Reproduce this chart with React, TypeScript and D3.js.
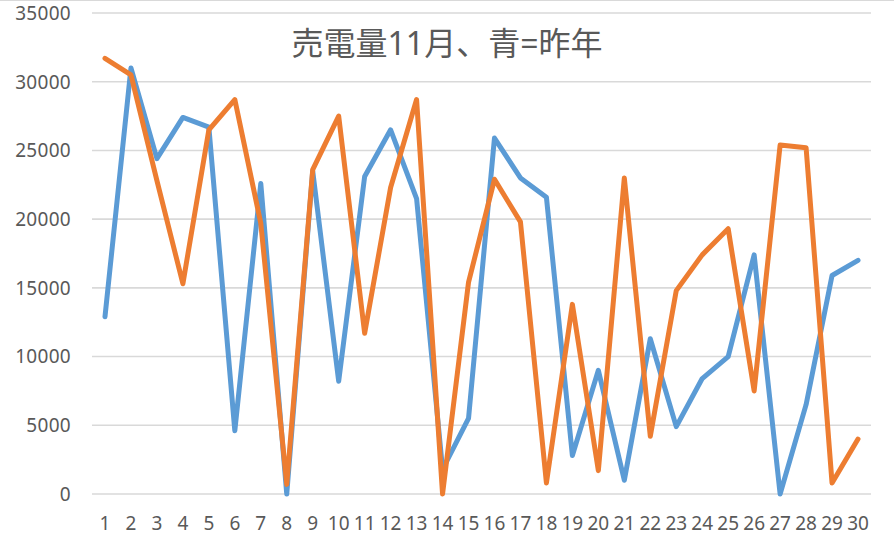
import React from "react";
import * as d3 from "d3";

const days: string[] = Array.from({ length: 30 }, (_, i) => String(i + 1));
const lastYear: number[] = [
  12900, 31000, 24400, 27400, 26700, 4600, 22600, 0, 23500, 8200,
  23100, 26500, 21500, 1800, 5500, 25900, 23000, 21600, 2800, 9000,
  1000, 11300, 4900, 8400, 10000, 17400, 0, 6500, 15900, 17000,
];
const thisYear: number[] = [
  31700, 30500, 22800, 15300, 26500, 28700, 19700, 700, 23600, 27500,
  11700, 22300, 28700, 0, 15400, 22900, 19800, 800, 13800, 1700,
  23000, 4200, 14800, 17400, 19300, 7500, 25400, 25200, 800, 4000,
];
const yTicks: number[] = [0, 5000, 10000, 15000, 20000, 25000, 30000, 35000];
const title = "売電量11月、青=昨年";

const W = 894;
const H = 539;
const FONT = "'Noto Sans', 'Noto Sans CJK JP', sans-serif";

export default function App() {
  const x = d3.scaleBand<string>().domain(days).range([92, 871]);
  const y = d3.scaleLinear().domain([0, 35000]).range([494, 13]);
  const cx = (d: string) => (x(d) as number) + x.bandwidth() / 2;
  const line = d3
    .line<number>()
    .x((_, i) => cx(days[i]))
    .y((v) => y(v));

  return (
    <svg
      width={W}
      height={H}
      style={{ position: "absolute", left: 0, top: 0, background: "#fff" }}
      fontFamily={FONT}
    >
      <rect x={0} y={0} width={W} height={H} fill="#fff" />
      <line x1={0} x2={W} y1={0.5} y2={0.5} stroke="#d9d9d9" strokeWidth={1} />
      {yTicks.map((t) => (
        <g key={t}>
          <line x1={92} x2={871} y1={y(t)} y2={y(t)} stroke="#d9d9d9" strokeWidth={1.6} />
          <text
            x={71}
            y={y(t)}
            dy="0.36em"
            textAnchor="end"
            fontSize={19}
            letterSpacing={0.3}
            fill="#595959"
          >
            {t}
          </text>
        </g>
      ))}
      {days.map((d) => (
        <text
          key={d}
          x={cx(d)}
          y={530}
          textAnchor="middle"
          fontSize={19}
          letterSpacing={0}
          fill="#595959"
        >
          {d}
        </text>
      ))}
      <path
        d={line(lastYear) || ""}
        fill="none"
        stroke="#5B9BD5"
        strokeWidth={5}
        strokeLinejoin="round"
        strokeLinecap="round"
      />
      <path
        d={line(thisYear) || ""}
        fill="none"
        stroke="#ED7D31"
        strokeWidth={5}
        strokeLinejoin="round"
        strokeLinecap="round"
      />
      <text x={447} y={55} textAnchor="middle" fontSize={32} fill="#595959">
        {title}
      </text>
    </svg>
  );
}
